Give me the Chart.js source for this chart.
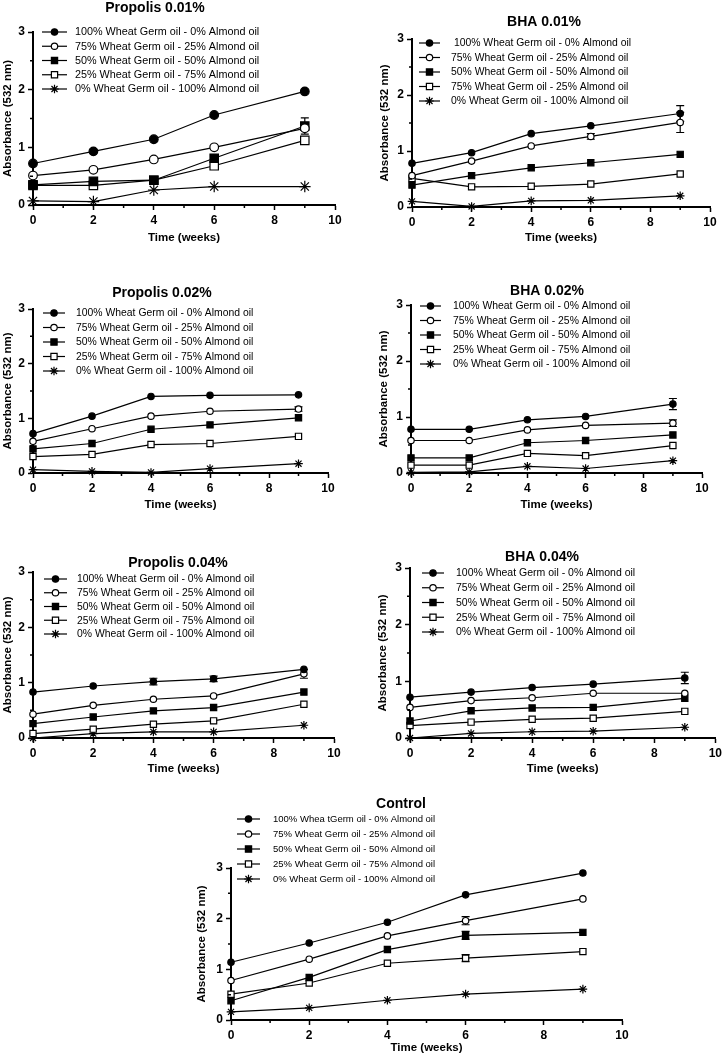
<!DOCTYPE html>
<html lang="en">
<head>
<meta charset="UTF-8">
<title>Absorbance (532 nm) over time</title>
<script src="https://cdn.jsdelivr.net/npm/chart.js@4/dist/chart.umd.min.js"></script>
<style>
  html, body {
    margin: 0;
    padding: 0;
    background: #fff;
    overflow: hidden;
  }
  #page {
    position: relative;
    width: 725px;
    height: 1058px;
  }
  #page canvas {
    position: absolute;
  }
</style>
</head>
<body>
<div id="page"></div>
<script>
// Sampling times (weeks)
const weeks = [0, 2, 4, 6, 9];

// Legend labels (kept as printed in the figure, typos included)
const blendLabels = [
  "100% Wheat Germ oil - 0% Almond oil",
  "75% Wheat Germ oil - 25% Almond oil",
  "50% Wheat Germ oil - 50% Almond oil",
  "25% Wheat Germ oil - 75% Almond oil",
  "0% Wheat Germ oil - 100% Almond oil",
];
const bha001Labels = [
  " 100% Wheat Germ oil - 0% Almond oil",
  "75% Wheat Germ oil - 25% Almond oil",
  "50% Wheat Germ oil - 50% Almond oil",
  "75% Wheat Germ oil - 25% Almond oil",
  "0% Wheat Germ oil - 100% Almond oil",
];
const controlLabels = [
  "100% Whea tGerm oil - 0% Almond oil",
  "75% Wheat Germ oil - 25% Almond oil",
  "50% Wheat Germ oil - 50% Almond oil",
  "25% Wheat Germ oil - 75% Almond oil",
  "0% Wheat Germ oil - 100% Almond oil",
];

// Absorbance values, one row per blend (100%, 75%, 50%, 25%, 0% wheat germ)
const propolis001 = [
  [0.72, 0.93, 1.14, 1.56, 1.97],
  [0.51, 0.61, 0.79, 1.00, 1.33],
  [0.35, 0.41, 0.43, 0.81, 1.37],
  [0.34, 0.34, 0.43, 0.68, 1.12],
  [0.07, 0.06, 0.26, 0.32, 0.32],
];
const bha001 = [
  [0.78, 0.97, 1.31, 1.45, 1.67],
  [0.56, 0.82, 1.09, 1.26, 1.51],
  [0.39, 0.56, 0.70, 0.79, 0.94],
  [0.51, 0.36, 0.37, 0.41, 0.59],
  [0.10, 0.01, 0.11, 0.12, 0.20],
];
const propolis002 = [
  [0.72, 1.04, 1.40, 1.42, 1.43],
  [0.58, 0.81, 1.04, 1.13, 1.17],
  [0.44, 0.54, 0.80, 0.88, 1.01],
  [0.30, 0.34, 0.52, 0.54, 0.67],
  [0.06, 0.03, 0.01, 0.08, 0.17],
];
const bha002 = [
  [0.78, 0.78, 0.95, 1.01, 1.23],
  [0.58, 0.58, 0.77, 0.85, 0.89],
  [0.27, 0.27, 0.54, 0.58, 0.68],
  [0.14, 0.14, 0.35, 0.31, 0.49],
  [0.01, 0.02, 0.12, 0.08, 0.22],
];
const propolis004 = [
  [0.83, 0.94, 1.02, 1.07, 1.24],
  [0.43, 0.59, 0.70, 0.76, 1.16],
  [0.26, 0.38, 0.49, 0.55, 0.83],
  [0.08, 0.16, 0.25, 0.31, 0.61],
  [0.00, 0.08, 0.11, 0.11, 0.23],
];
const bha004 = [
  [0.72, 0.81, 0.89, 0.95, 1.06],
  [0.54, 0.66, 0.71, 0.79, 0.79],
  [0.30, 0.48, 0.53, 0.54, 0.70],
  [0.22, 0.28, 0.33, 0.35, 0.47],
  [0.00, 0.08, 0.11, 0.12, 0.19],
];
const control = [
  [1.14, 1.52, 1.93, 2.47, 2.90],
  [0.78, 1.20, 1.66, 1.96, 2.39],
  [0.38, 0.84, 1.39, 1.67, 1.73],
  [0.51, 0.73, 1.12, 1.22, 1.35],
  [0.16, 0.24, 0.39, 0.51, 0.61],
];

// Error bars (SD) where visible, 0 = none
const propolis001Err = [
  [0, 0, 0, 0, 0],
  [0, 0, 0, 0, 0],
  [0, 0, 0, 0, 0.14],
  [0, 0, 0, 0, 0],
  [0, 0, 0, 0, 0],
];
const bha001Err = [
  [0, 0, 0, 0, 0.14],
  [0, 0, 0, 0.05, 0.18],
  [0, 0, 0, 0, 0],
  [0, 0, 0, 0, 0],
  [0, 0, 0, 0, 0],
];
const propolis002Err = [
  [0, 0, 0, 0, 0],
  [0, 0, 0, 0, 0.04],
  [0, 0, 0, 0, 0],
  [0, 0, 0, 0, 0],
  [0, 0, 0, 0, 0],
];
const bha002Err = [
  [0, 0, 0, 0, 0.1],
  [0, 0, 0, 0, 0.06],
  [0, 0, 0, 0, 0],
  [0, 0, 0, 0, 0],
  [0, 0, 0, 0, 0],
];
const propolis004Err = [
  [0, 0, 0.06, 0.05, 0],
  [0, 0, 0, 0, 0.08],
  [0, 0, 0, 0, 0],
  [0, 0, 0, 0, 0],
  [0, 0, 0, 0, 0],
];
const bha004Err = [
  [0, 0, 0, 0, 0.1],
  [0, 0, 0, 0, 0],
  [0, 0, 0, 0, 0],
  [0, 0, 0, 0, 0],
  [0, 0, 0, 0, 0],
];
const controlErr = [
  [0, 0, 0, 0, 0],
  [0, 0, 0, 0.08, 0],
  [0, 0, 0, 0.08, 0],
  [0, 0, 0, 0.07, 0],
  [0, 0, 0, 0, 0],
];

const FONT = "'Liberation Sans', Arial, Helvetica, sans-serif";

// marker look per blend
const markers = [
  { style: "circle", fill: "#000", r: 3.2 },
  { style: "circle", fill: "#fff", r: 3.2 },
  { style: "rect", fill: "#000", r: 4.4 },
  { style: "rect", fill: "#fff", r: 4.4 },
  { style: "star", fill: "#000", r: 4.3 },
];

// page layout: box = canvas [x, y, w, h], area = plot [left, right, top, bottom]
const panels = [
  {
    title: "Propolis 0.01%", values: propolis001, errors: propolis001Err, labels: blendLabels,
    box: [0, 0, 362, 255], area: [33, 335, 32, 205], titleXY: [155, 8], yTitleX: 8, xTitleY: 238,
    legend: { x0: 42, x1: 67, tx: 75, y: 32, dy: 14.25, size: 10.8 }, markerScale: 1.35,
  },
  {
    title: "BHA 0.01%", values: bha001, errors: bha001Err, labels: bha001Labels,
    box: [362, 0, 363, 255], area: [412, 710, 39, 207], titleXY: [544, 22], yTitleX: 385, xTitleY: 238,
    legend: { x0: 419, x1: 440, tx: 451, y: 43, dy: 14.5, size: 10.4 }, markerScale: 1,
  },
  {
    title: "Propolis 0.02%", values: propolis002, errors: propolis002Err, labels: blendLabels,
    box: [0, 260, 362, 265], area: [33, 328, 309, 473], titleXY: [162, 293], yTitleX: 8, xTitleY: 505,
    legend: { x0: 43, x1: 65, tx: 76, y: 313, dy: 14.5, size: 10.4 }, markerScale: 1,
  },
  {
    title: "BHA 0.02%", values: bha002, errors: bha002Err, labels: blendLabels,
    box: [362, 260, 363, 265], area: [411, 702, 305, 473], titleXY: [547, 291], yTitleX: 384, xTitleY: 505,
    legend: { x0: 420, x1: 441, tx: 453, y: 306, dy: 14.5, size: 10.4 }, markerScale: 1,
  },
  {
    title: "Propolis 0.04%", values: propolis004, errors: propolis004Err, labels: blendLabels,
    box: [0, 530, 362, 260], area: [33, 334, 572, 738], titleXY: [178, 563], yTitleX: 8, xTitleY: 769,
    legend: { x0: 44, x1: 67, tx: 77, y: 579, dy: 13.75, size: 10.4 }, markerScale: 1,
  },
  {
    title: "BHA 0.04%", values: bha004, errors: bha004Err, labels: blendLabels,
    box: [362, 530, 363, 260], area: [410, 719, 568, 738], titleXY: [542, 557], yTitleX: 383, xTitleY: 769,
    legend: { x0: 422, x1: 444, tx: 456, y: 573, dy: 14.75, size: 10.5 }, markerScale: 1,
  },
  {
    title: "Control", values: control, errors: controlErr, labels: controlLabels,
    box: [180, 790, 460, 268], area: [231, 622, 868, 1020], titleXY: [401, 804], yTitleX: 202, xTitleY: 1048,
    legend: { x0: 237, x1: 260, tx: 273, y: 819, dy: 15, size: 9.5 }, markerScale: 1,
  },
];

// minor ticks, error bars, panel title and in-plot legend
const panelDecor = {
  id: "panelDecor",
  beforeDatasetsDraw(chart) {
    const ctx = chart.ctx;
    ctx.save();
    ctx.strokeStyle = "#000";
    ctx.lineWidth = 1.2;
    chart.data.datasets.forEach((ds, i) => {
      const meta = chart.getDatasetMeta(i);
      ds.data.forEach((pt, j) => {
        const err = ds.errors[j];
        if (!err) return;
        const x = meta.data[j].x;
        const yTop = chart.scales.y.getPixelForValue(pt.y + err);
        const yBot = chart.scales.y.getPixelForValue(pt.y - err);
        ctx.beginPath();
        ctx.moveTo(x, yTop);
        ctx.lineTo(x, yBot);
        ctx.moveTo(x - 4, yTop);
        ctx.lineTo(x + 4, yTop);
        ctx.moveTo(x - 4, yBot);
        ctx.lineTo(x + 4, yBot);
        ctx.stroke();
      });
    });
    ctx.restore();
  },
  afterDraw(chart, args, opts) {
    const ctx = chart.ctx;
    const { x, y } = chart.scales;
    const area = chart.chartArea;
    const [cx, cy] = opts.box;
    ctx.save();

    // minor ticks
    ctx.strokeStyle = "#000";
    ctx.lineWidth = 1.5;
    ctx.beginPath();
    [1, 3, 5, 7, 9].forEach((v) => {
      const px = x.getPixelForValue(v);
      ctx.moveTo(px, area.bottom);
      ctx.lineTo(px, area.bottom + 3);
    });
    [0.5, 1.5, 2.5].forEach((v) => {
      const py = y.getPixelForValue(v);
      ctx.moveTo(area.left, py);
      ctx.lineTo(area.left - 3, py);
    });
    ctx.stroke();

    // title
    ctx.fillStyle = "#000";
    ctx.font = `bold 14px ${FONT}`;
    ctx.textAlign = "center";
    ctx.textBaseline = "middle";
    ctx.fillText(opts.title, opts.titleXY[0] - cx, opts.titleXY[1] - cy);

    // legend
    const lg = opts.legend;
    ctx.font = `${lg.size}px ${FONT}`;
    ctx.textAlign = "left";
    chart.data.datasets.forEach((ds, i) => {
      const ly = lg.y + i * lg.dy - cy;
      ctx.strokeStyle = "#000";
      ctx.lineWidth = 1.2;
      ctx.beginPath();
      ctx.moveTo(lg.x0 - cx, ly);
      ctx.lineTo(lg.x1 - cx, ly);
      ctx.stroke();
      ctx.fillStyle = markers[i].fill;
      Chart.helpers.drawPoint(ctx, {
        pointStyle: markers[i].style,
        radius: markers[i].r,
        rotation: 0,
        borderWidth: 1.2,
      }, (lg.x0 + lg.x1) / 2 - cx, ly);
      ctx.fillStyle = "#000";
      ctx.fillText(ds.label, lg.tx - cx, ly + 0.5);
    });
    ctx.restore();
  },
};

function buildPanel(p) {
  const page = document.getElementById("page");
  const canvas = document.createElement("canvas");
  const [cx, cy, cw, ch] = p.box;
  const [L, R, T, B] = p.area;
  canvas.width = cw;
  canvas.height = ch;
  canvas.style.left = cx + "px";
  canvas.style.top = cy + "px";
  canvas.style.width = cw + "px";
  canvas.style.height = ch + "px";
  page.appendChild(canvas);

  const yAxisW = L - cx;
  const xAxisH = cy + ch - B;
  const titleFont = { family: FONT, size: 11.5, weight: "bold" };
  const tickFont = { family: FONT, size: 12, weight: "bold" };
  const halfLine = (11.5 * 1.2) / 2;

  const datasets = p.values.map((vals, i) => ({
    label: p.labels[i],
    data: weeks.map((w, j) => ({ x: w, y: vals[j] })),
    errors: p.errors[i],
    borderColor: "#000",
    borderWidth: 1.2,
    tension: 0,
    fill: false,
    clip: false,
    pointStyle: markers[i].style,
    pointRadius: markers[i].r * p.markerScale,
    pointBackgroundColor: markers[i].fill,
    pointBorderColor: "#000",
    pointBorderWidth: 1.2,
  }));

  new Chart(canvas, {
    type: "line",
    data: { datasets },
    options: {
      responsive: false,
      animation: false,
      devicePixelRatio: 1,
      events: [],
      layout: {
        autoPadding: false,
        padding: { left: 0, top: T - cy, right: cx + cw - R, bottom: 0 },
      },
      plugins: {
        legend: { display: false },
        title: { display: false },
        tooltip: { enabled: false },
        panelDecor: {
          box: p.box, title: p.title, titleXY: p.titleXY, legend: p.legend,
        },
      },
      scales: {
        x: {
          type: "linear",
          min: 0,
          max: 10,
          ticks: { stepSize: 2, color: "#000", font: tickFont, padding: 3, maxRotation: 0 },
          grid: { drawOnChartArea: false, color: "#000", tickLength: 5, tickWidth: 1.5 },
          border: { color: "#000", width: 2 },
          title: {
            display: true, text: "Time (weeks)", color: "#000", font: titleFont,
            padding: { top: 0, bottom: ch - (p.xTitleY - cy) - halfLine },
          },
          afterFit(scale) { scale.height = xAxisH; },
        },
        y: {
          type: "linear",
          min: 0,
          max: 3,
          ticks: { stepSize: 1, color: "#000", font: tickFont, padding: 3 },
          grid: { drawOnChartArea: false, color: "#000", tickLength: 5, tickWidth: 1.5 },
          border: { color: "#000", width: 2 },
          title: {
            display: true, text: "Absorbance (532 nm)", color: "#000", font: titleFont,
            padding: { top: p.yTitleX - cx - halfLine, bottom: 0 },
          },
          afterFit(scale) { scale.width = yAxisW; },
        },
      },
    },
    plugins: [panelDecor],
  });
}

panels.forEach(buildPanel);
</script>
</body>
</html>
